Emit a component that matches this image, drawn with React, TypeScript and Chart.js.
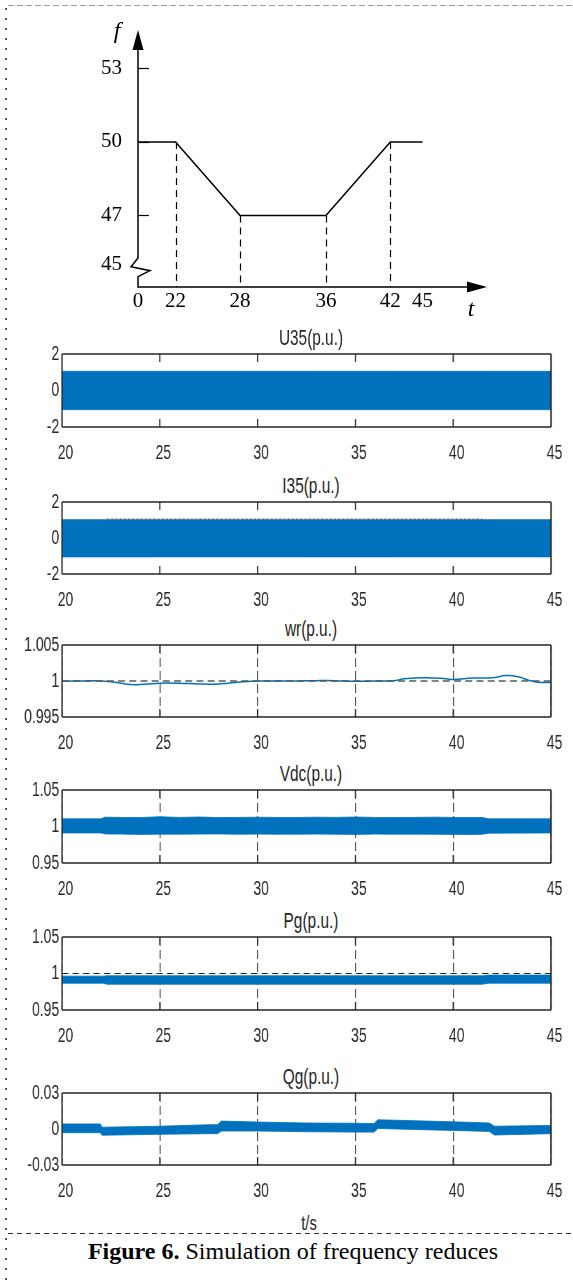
import React, { useEffect, useRef } from 'react';
import { Chart, registerables } from 'chart.js';

Chart.register(...registerables);

// ---------------- styling constants ----------------
const SANS = '"Liberation Sans", Arial, Helvetica, sans-serif';
const SERIF = '"Liberation Serif", "Times New Roman", serif';
const BLUE = '#0072BD';
const ORANGE = '#D95319';
const INK = '#262626';
const PAGE_W = 573;
// the MATLAB panels in the figure are squeezed horizontally
const SQ = 0.7;
const CW = Math.round(PAGE_W / SQ);

// ---------------- data: frequency profile (schematic) ----------------
const freqTimes = [0, 22, 28, 36, 42, 45];
const freqValues = [50, 50, 47, 47, 50, 50];
const freqDropTimes = [22, 28, 36, 42];
const freqYTicks = [53, 50, 47, 45];
const freqXTicks = [0, 22, 28, 36, 42, 45];

// ---------------- data: simulation panels ----------------
const timeTicks = [20, 25, 30, 35, 40, 45];

const u35Times = [20, 45];
const u35Upper = [1.05, 1.05];
const u35Lower = [-1.05, -1.05];
const u35YTicks = [-2, 0, 2];

const i35Times = [20, 45];
const i35Upper = [1.02, 1.02];
const i35Lower = [-1.05, -1.05];
const i35PeakTimes = [22.3, 41.5];
const i35PeakValues = [1.06, 1.06];
const i35YTicks = [-2, 0, 2];

const wrTimes = [20, 21, 22, 22.8, 23.5, 24.2, 25, 26, 27, 27.8, 28.5, 29.3, 30, 31, 32, 33, 34, 35, 36, 37, 37.5, 38.5, 39.5, 40, 41, 42, 42.7, 43.3, 44, 44.5, 45];
const wrValues = [0.99996, 1.0, 1.0, 0.9998, 0.99951, 0.99955, 0.9997, 0.9997, 0.9996, 0.99955, 0.9997, 0.9999, 1.0, 1.0, 1.0, 1.00005, 1.00005, 0.99995, 1.0, 1.00005, 1.0003, 1.00045, 1.00035, 1.0002, 1.0004, 1.00045, 1.00075, 1.0006, 1.0, 0.9998, 0.9998];
const wrRefTimes = [20, 45];
const wrRefValues = [1, 1];
const wrYTicks = [0.995, 1, 1.005];

const vdcTimes = [20, 22, 22.2, 23, 24, 25, 26, 27, 28, 29, 30, 31, 32, 33, 34, 35, 36, 37, 38, 39, 40, 41, 41.5, 41.8, 45];
const vdcUpper = [1.0105, 1.0105, 1.0128, 1.0124, 1.0122, 1.0134, 1.0124, 1.013, 1.0122, 1.0124, 1.0127, 1.0124, 1.0122, 1.0128, 1.0124, 1.013, 1.0124, 1.0122, 1.0124, 1.0128, 1.0124, 1.0122, 1.0124, 1.0105, 1.0105];
const vdcLower = [0.9912, 0.9912, 0.9898, 0.9896, 0.9892, 0.9895, 0.9894, 0.9896, 0.9898, 0.9894, 0.9896, 0.9894, 0.9895, 0.9896, 0.9894, 0.9892, 0.9896, 0.9894, 0.9895, 0.9894, 0.9892, 0.989, 0.9894, 0.9908, 0.9912];
const vdcYTicks = [0.95, 1, 1.05];

const pgTimes = [20, 22.1, 22.3, 41.5, 41.8, 45];
const pgUpper = [0.9964, 0.9964, 0.9969, 0.9969, 0.9978, 0.9978];
const pgLower = [0.9867, 0.9867, 0.9853, 0.9853, 0.9867, 0.9867];
const pgRefTimes = [20, 45];
const pgRefValues = [1, 1];
const pgYTicks = [0.95, 1, 1.05];

const qgTimes = [20, 21.95, 22.05, 25, 27.5, 27.95, 28.15, 30, 32.5, 35, 35.95, 36.15, 38, 40, 41.85, 42.1, 45];
const qgUpper = [0.0042, 0.0042, 0.0015, 0.0023, 0.0036, 0.0036, 0.0066, 0.0058, 0.005, 0.0048, 0.0045, 0.0077, 0.0069, 0.006, 0.005, 0.0023, 0.003];
const qgLower = [-0.0031, -0.0031, -0.0052, -0.0044, -0.0039, -0.0039, -0.0017, -0.0017, -0.0023, -0.0026, -0.0026, 0.0004, -0.0004, -0.0012, -0.002, -0.005, -0.0039];
const qgYTicks = [-0.03, 0, 0.03];

// ---------------- helpers ----------------
const pts = (xs: number[], ys: number[]) => xs.map((x, i) => ({ x, y: ys[i] }));

function band(times: number[], upper: number[], lower: number[], color: string) {
  return [
    { data: pts(times, upper), borderColor: color, backgroundColor: color, borderWidth: 0.8, pointRadius: 0, fill: '+1', tension: 0 },
    { data: pts(times, lower), borderColor: color, backgroundColor: color, borderWidth: 0.8, pointRadius: 0, fill: false, tension: 0 },
  ];
}

function line(times: number[], values: number[], color: string, width: number, dash: number[] = [], tension = 0) {
  return { data: pts(times, values), borderColor: color, backgroundColor: color, borderWidth: width, borderDash: dash, pointRadius: 0, fill: false, tension };
}

// ---------------- panel geometry (page px) ----------------
const PLOT_L = 62;
const PLOT_R = 551;
const PAD_T = 14;
const XAX_H = 42;
const TICK_FONT = 20;

type PanelDef = {
  title: string;
  top: number;
  bottom: number;
  yMin: number;
  yMax: number;
  yTicks: number[];
  grid: boolean;
  datasets: any[];
};

const panels: PanelDef[] = [
  { title: 'U35(p.u.)', top: 352, bottom: 427, yMin: -2, yMax: 2, yTicks: u35YTicks, grid: false, datasets: band(u35Times, u35Upper, u35Lower, BLUE) },
  { title: 'I35(p.u.)', top: 500, bottom: 574, yMin: -2, yMax: 2, yTicks: i35YTicks, grid: false, datasets: [...band(i35Times, i35Upper, i35Lower, BLUE), line(i35PeakTimes, i35PeakValues, ORANGE, 1, [3, 3])] },
  { title: 'wr(p.u.)', top: 643, bottom: 717, yMin: 0.995, yMax: 1.005, yTicks: wrYTicks, grid: true, datasets: [line(wrRefTimes, wrRefValues, '#5a5a5a', 1.3, [10, 6]), line(wrTimes, wrValues, BLUE, 1.5, [], 0.4)] },
  { title: 'Vdc(p.u.)', top: 788, bottom: 863, yMin: 0.95, yMax: 1.05, yTicks: vdcYTicks, grid: true, datasets: band(vdcTimes, vdcUpper, vdcLower, BLUE) },
  { title: 'Pg(p.u.)', top: 935, bottom: 1010, yMin: 0.95, yMax: 1.05, yTicks: pgYTicks, grid: true, datasets: [line(pgRefTimes, pgRefValues, '#222', 1.2, [9, 6]), ...band(pgTimes, pgUpper, pgLower, BLUE)] },
  { title: 'Qg(p.u.)', top: 1091, bottom: 1165, yMin: -0.03, yMax: 0.03, yTicks: qgYTicks, grid: true, datasets: band(qgTimes, qgUpper, qgLower, BLUE) },
];

const boxPlugin = {
  id: 'matlabBox',
  afterDatasetsDraw(chart: any) {
    const { ctx, chartArea: a, scales } = chart;
    ctx.save();
    ctx.setLineDash([]);
    ctx.strokeStyle = INK;
    // horizontal edges
    ctx.lineWidth = 1.4;
    ctx.beginPath();
    ctx.moveTo(a.left, a.top);
    ctx.lineTo(a.right, a.top);
    ctx.moveTo(a.left, a.bottom);
    ctx.lineTo(a.right, a.bottom);
    ctx.stroke();
    // vertical edges (drawn wider because the canvas is squeezed horizontally)
    ctx.lineWidth = 2;
    ctx.beginPath();
    ctx.moveTo(a.left, a.top);
    ctx.lineTo(a.left, a.bottom);
    ctx.moveTo(a.right, a.top);
    ctx.lineTo(a.right, a.bottom);
    ctx.stroke();
    // inside x tick marks, top and bottom
    ctx.lineWidth = 1.8;
    timeTicks.slice(1, -1).forEach((v) => {
      const px = scales.x.getPixelForValue(v);
      ctx.beginPath();
      ctx.moveTo(px, a.top);
      ctx.lineTo(px, a.top + 8);
      ctx.moveTo(px, a.bottom);
      ctx.lineTo(px, a.bottom - 8);
      ctx.stroke();
    });
    ctx.restore();
  },
};

function Panel({ p }: { p: PanelDef }) {
  const ref = useRef<HTMLCanvasElement>(null);
  const plotH = p.bottom - p.top;
  const h = PAD_T + plotH + XAX_H;
  useEffect(() => {
    const chart = new Chart(ref.current as HTMLCanvasElement, {
      type: 'line',
      data: { datasets: p.datasets },
      options: {
        responsive: false,
        animation: false,
        devicePixelRatio: 1,
        layout: { padding: { top: PAD_T, right: CW - PLOT_R / SQ, left: 0, bottom: 0 } },
        plugins: { legend: { display: false }, tooltip: { enabled: false }, title: { display: false } },
        scales: {
          x: {
            type: 'linear',
            min: 20,
            max: 45,
            afterBuildTicks: (s: any) => { s.ticks = timeTicks.map((value) => ({ value })); },
            afterFit: (s: any) => { s.height = XAX_H; },
            ticks: { autoSkip: false, maxRotation: 0, color: INK, font: { family: SANS, size: TICK_FONT }, padding: 26 - TICK_FONT * 0.6, labelOffset: 5, callback: (v: any) => String(v) },
            grid: { display: p.grid, color: '#333', lineWidth: 1.4, drawTicks: false },
            border: { display: false, dash: [9, 4] },
          },
          y: {
            type: 'linear',
            min: p.yMin,
            max: p.yMax,
            afterBuildTicks: (s: any) => { s.ticks = p.yTicks.map((value) => ({ value })); },
            afterFit: (s: any) => { s.width = PLOT_L / SQ; },
            ticks: { autoSkip: false, color: INK, font: { family: SANS, size: TICK_FONT }, padding: 4, callback: (v: any) => String(v) },
            grid: { display: false, drawTicks: false },
            border: { display: false },
          },
        },
      },
      plugins: [boxPlugin],
    } as any);
    return () => chart.destroy();
  }, []);
  return (
    <>
      <div style={{ position: 'absolute', left: 211, width: 200, top: p.top - 14 - 13, height: 26, lineHeight: '26px', textAlign: 'center', fontFamily: SANS, fontSize: 22, color: INK, transform: `scaleX(${SQ})` }}>{p.title}</div>
      <canvas ref={ref} width={CW} height={h} style={{ position: 'absolute', left: 0, top: p.top - PAD_T, width: CW, height: h, transform: `scaleX(${SQ})`, transformOrigin: '0 0' }} />
    </>
  );
}

// ---------------- frequency schematic ----------------
const FREQ_X_ORIGIN = 18.5; // where t = 0 sits on the broken time axis
const FREQ_X_MAX = 51;
const FREQ_Y_MIN = 44.08;
const FREQ_Y_MAX = 54.57;
const freqX = (t: number) => (t === 0 ? FREQ_X_ORIGIN : t);

const freqAxesPlugin = {
  id: 'freqAxes',
  afterDatasetsDraw(chart: any) {
    const { ctx, chartArea: a, scales } = chart;
    const x = scales.x;
    const y = scales.y;
    const x0 = a.left;
    const yb = a.bottom;
    ctx.save();
    ctx.strokeStyle = '#000';
    ctx.fillStyle = '#000';
    // dashed drop lines
    ctx.lineWidth = 1.2;
    ctx.setLineDash([7, 5]);
    freqDropTimes.forEach((t) => {
      const i = freqTimes.indexOf(t);
      const px = Math.round(x.getPixelForValue(freqX(t))) + 0.5;
      ctx.beginPath();
      ctx.moveTo(px, y.getPixelForValue(freqValues[i]));
      ctx.lineTo(px, yb);
      ctx.stroke();
    });
    ctx.setLineDash([]);
    // axes with break
    ctx.lineWidth = 1.5;
    const p45 = y.getPixelForValue(45);
    ctx.beginPath();
    ctx.moveTo(x0, a.top + 16);
    ctx.lineTo(x0, p45 - 6.5);
    ctx.lineTo(x0 - 7, p45 + 2.2);
    ctx.lineTo(x0 + 12, p45 + 6.2);
    ctx.lineTo(x0, p45 + 12.2);
    ctx.lineTo(x0, yb);
    ctx.lineTo(a.right - 16, yb);
    ctx.stroke();
    // arrow heads
    ctx.beginPath();
    ctx.moveTo(x0, a.top);
    ctx.lineTo(x0 - 5.5, a.top + 20);
    ctx.lineTo(x0 + 5.5, a.top + 20);
    ctx.closePath();
    ctx.fill();
    ctx.beginPath();
    ctx.moveTo(a.right, yb);
    ctx.lineTo(a.right - 20, yb - 5.5);
    ctx.lineTo(a.right - 20, yb + 5.5);
    ctx.closePath();
    ctx.fill();
    // y tick marks (inside)
    ctx.lineWidth = 1.2;
    freqYTicks.filter((v) => v !== 45).forEach((v) => {
      const py = Math.round(y.getPixelForValue(v)) + 0.5;
      ctx.beginPath();
      ctx.moveTo(x0, py);
      ctx.lineTo(x0 + 11, py);
      ctx.stroke();
    });
    ctx.restore();
  },
};

function FreqChart() {
  const ref = useRef<HTMLCanvasElement>(null);
  const H = 330;
  const TOP = 30;
  const BOTTOM = 287;
  const LEFT = 138;
  const RIGHT = 487;
  useEffect(() => {
    const chart = new Chart(ref.current as HTMLCanvasElement, {
      type: 'line',
      data: {
        datasets: [
          { data: freqTimes.map((t, i) => ({ x: freqX(t), y: freqValues[i] })), borderColor: '#000', borderWidth: 1.5, pointRadius: 0, fill: false, tension: 0 },
        ],
      },
      options: {
        responsive: false,
        animation: false,
        devicePixelRatio: 1,
        layout: { padding: { top: TOP, right: PAGE_W - RIGHT, left: 0, bottom: 0 } },
        plugins: { legend: { display: false }, tooltip: { enabled: false } },
        scales: {
          x: {
            type: 'linear',
            min: FREQ_X_ORIGIN,
            max: FREQ_X_MAX,
            afterBuildTicks: (s: any) => { s.ticks = freqXTicks.map((t) => ({ value: freqX(t) })); },
            afterFit: (s: any) => { s.height = H - BOTTOM; },
            ticks: { autoSkip: false, maxRotation: 0, color: '#000', font: { family: SERIF, size: 21 }, padding: 2, callback: (v: any) => (v === FREQ_X_ORIGIN ? '0' : String(v)) },
            grid: { display: false, drawTicks: false },
            border: { display: false },
          },
          y: {
            type: 'linear',
            min: FREQ_Y_MIN,
            max: FREQ_Y_MAX,
            afterBuildTicks: (s: any) => { s.ticks = freqYTicks.map((value) => ({ value })); },
            afterFit: (s: any) => { s.width = LEFT; },
            ticks: { autoSkip: false, color: '#000', font: { family: SERIF, size: 21 }, padding: 16, callback: (v: any) => String(v) },
            grid: { display: false, drawTicks: false },
            border: { display: false },
          },
        },
      },
      plugins: [freqAxesPlugin],
    } as any);
    return () => chart.destroy();
  }, []);
  return (
    <>
      <canvas ref={ref} width={PAGE_W} height={H} style={{ position: 'absolute', left: 0, top: 0, width: PAGE_W, height: H }} />
      <div style={{ position: 'absolute', left: 106, top: 16, width: 22, height: 28, lineHeight: '28px', fontFamily: SERIF, fontStyle: 'italic', fontSize: 24, textAlign: 'center' }}>f</div>
      <div style={{ position: 'absolute', left: 460, top: 294, width: 22, height: 28, lineHeight: '28px', fontFamily: SERIF, fontStyle: 'italic', fontSize: 24, textAlign: 'center' }}>t</div>
    </>
  );
}

export default function App() {
  return (
    <div style={{ position: 'absolute', left: 0, top: 0, width: PAGE_W, height: 1288, overflow: 'hidden', background: '#fff' }}>
      {/* figure frame */}
      <div style={{ position: 'absolute', left: 8, top: 5, width: 565, height: 1, backgroundImage: 'repeating-linear-gradient(to right, #9a9a9a 0 6px, transparent 6px 9px)' }} />
      <div style={{ position: 'absolute', left: 5, top: 8, width: 2, height: 1280, backgroundImage: 'repeating-linear-gradient(to bottom, #555 0 2px, transparent 2px 10px)' }} />
      <div style={{ position: 'absolute', left: 8, top: 1233, width: 565, height: 1, backgroundImage: 'repeating-linear-gradient(to right, #333 0 5px, transparent 5px 9px)' }} />

      <FreqChart />
      {panels.map((p) => (
        <Panel key={p.title} p={p} />
      ))}

      <div style={{ position: 'absolute', left: 259, width: 100, top: 1210, height: 26, lineHeight: '26px', textAlign: 'center', fontFamily: SANS, fontSize: 21, color: INK, transform: `scaleX(${SQ})` }}>t/s</div>
      <div style={{ position: 'absolute', left: 13, width: 560, top: 1237, height: 28, lineHeight: '28px', textAlign: 'center', fontFamily: SERIF, fontSize: 24, color: '#000' }}>
        <b>Figure 6.</b> Simulation of frequency reduces
      </div>
    </div>
  );
}
